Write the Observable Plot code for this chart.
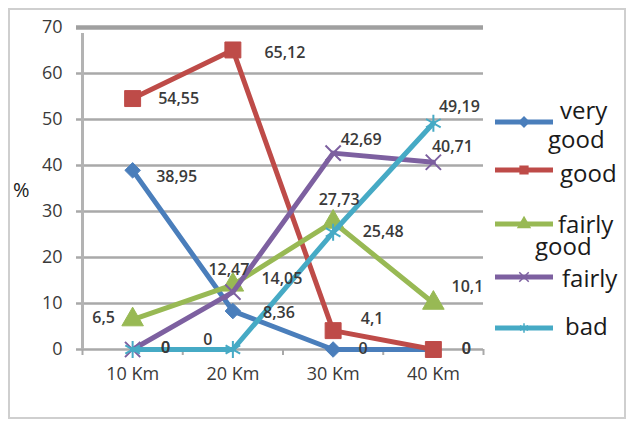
<!DOCTYPE html>
<html>
<head>
<meta charset="utf-8">
<script src="https://cdn.jsdelivr.net/npm/d3@7"></script>
<script src="https://cdn.jsdelivr.net/npm/@observablehq/plot@0.6"></script>
<style>
  body { margin: 0; background: #fff; }
  #wrap { position: relative; width: 627px; height: 421px; overflow: hidden; font-family: "Open Sans", sans-serif; }
  #border { position: absolute; left: 8px; top: 8px; width: 614px; height: 407px; border: 2px solid #cfcfcf; }
  #chart, #legend { position: absolute; left: 0; top: 0; }
  #pct { position: absolute; left: 13px; top: 176px; font-size: 20px; color: #1a1a1a; }
</style>
</head>
<body>
<div id="wrap">
  <div id="border"></div>
  <div id="chart"></div>
  <svg id="legend" width="627" height="421"></svg>
  <div id="pct">%</div>
</div>
<script>
const categories = ["10 Km", "20 Km", "30 Km", "40 Km"];
const seriesNames = ["very good", "good", "fairly good", "fairly", "bad"];
const veryGood   = [38.95, 8.36, 0, 0];
const good       = [54.55, 65.12, 4.1, 0];
const fairlyGood = [6.5, 14.05, 27.73, 10.1];
const fairly     = [0, 12.47, 42.69, 40.71];
const bad        = [0, 0, 25.48, 49.19];
const yTicks = [0, 10, 20, 30, 40, 50, 60, 70];

const seriesValues = [veryGood, good, fairlyGood, fairly, bad];
const colors  = ["#4a7ebb", "#be4b48", "#98b954", "#7d60a0", "#46aac5"];
const symbols = ["diamond2", "square", "triangle", "times", "asterisk"];
const symR    = [7, 9, 8, 7, 8];
const filled  = [true, true, true, false, false];

const rows = [];
seriesNames.forEach((s, si) => seriesValues[si].forEach((v, ci) => rows.push({series: s, si, cat: categories[ci], xi: ci + 1, value: v})));

// label nudges (dx, dy) in px, per series x category
const nudge = {
  "very good": [[44, 7], [46, 2], [30, -1], [33, -1]],
  "good": [[46, 0], [52, 3], [39, -12], [33, -1]],
  "fairly good": [[-29, -2], [49, -6], [6, -22], [34, -16]],
  "fairly": [[33, -2], [-4, -22], [28, -13], [19, -15]],
  "bad": [[33, -2], [-25, -10], [50, 0], [26, -16]]
};
const fmt = v => String(v).replace(".", ",");
const bounds = [0.5, 1.5, 2.5, 3.5, 4.5];

const marks = [
  Plot.ruleY(yTicks.filter(t => t < 70), {stroke: "#a9a9a9", strokeWidth: 2.5, insetLeft: -6}),
  Plot.ruleY([70], {stroke: "#a0a0a0", strokeWidth: 4.5, insetLeft: -6}),
  Plot.ruleX([0.5], {y1: 0, y2: 70, stroke: "#b3b3b3", strokeWidth: 3, insetBottom: -6}),
  Plot.ruleX(bounds, {y1: 0, y2: 0, stroke: "#a9a9a9", strokeWidth: 2, insetBottom: -6}),
  Plot.axisY({ticks: yTicks, tickSize: 0, tickPadding: 20, fontSize: 18, color: "#3a3a3a", label: null}),
  Plot.axisX({ticks: [1, 2, 3, 4], tickFormat: i => categories[i - 1], tickSize: 0, tickPadding: 18, fontSize: 18, color: "#3a3a3a", label: null})
];
seriesNames.forEach((s, si) => {
  const data = rows.filter(r => r.series === s);
  marks.push(Plot.line(data, {x: "xi", y: "value", stroke: colors[si], strokeWidth: 5, strokeLinejoin: "round", strokeLinecap: "round"}));
  marks.push(Plot.dot(data, {x: "xi", y: "value", symbol: () => symbols[si], r: symR[si],
    fill: filled[si] ? colors[si] : "none", stroke: colors[si], strokeWidth: filled[si] ? 1 : 2}));
});
rows.forEach(r => {
  const [dx, dy] = nudge[r.series][r.xi - 1];
  marks.push(Plot.text([r], {x: "xi", y: "value", text: d => fmt(d.value), dx, dy, fontSize: 16, fill: "#3a3a3a", fontWeight: 600}));
});

const chart = Plot.plot({
  width: 627, height: 421,
  marginLeft: 82, marginRight: 144, marginTop: 27, marginBottom: 72,
  x: {domain: [0.5, 4.5], axis: null},
  y: {domain: [0, 70], axis: null},
  symbol: {type: "identity"},
  style: {fontFamily: "Open Sans, sans-serif", background: "transparent", overflow: "visible"},
  marks
});
document.getElementById("chart").appendChild(chart);

// legend
const lg = d3.select("#legend");
const lineY = [122, 170, 224, 277, 328];
const texts = [
  [["very", 560, 119], ["good", 548, 148]],
  [["good", 560, 182]],
  [["fairly", 558, 233], ["good", 535, 255]],
  [["fairly", 562, 287]],
  [["bad", 565, 335]]
];
const d3sym = {diamond2: d3.symbolDiamond2, square: d3.symbolSquare, triangle: d3.symbolTriangle, times: d3.symbolTimes, asterisk: d3.symbolAsterisk};
seriesNames.forEach((s, si) => {
  lg.append("line").attr("x1", 495).attr("x2", 553).attr("y1", lineY[si]).attr("y2", lineY[si])
    .attr("stroke", colors[si]).attr("stroke-width", 5);
  lg.append("path").attr("transform", `translate(524,${lineY[si]})`)
    .attr("d", d3.symbol(d3sym[symbols[si]], 60)())
    .attr("fill", filled[si] ? colors[si] : "none").attr("stroke", colors[si]).attr("stroke-width", 1.5);
  const t = lg.append("text").attr("font-family", "Open Sans, sans-serif").attr("font-size", 24).attr("fill", "#1a1a1a");
  texts[si].forEach(([w, x, y]) => t.append("tspan").attr("x", x).attr("y", y).text(w));
});
</script>
</body>
</html>
